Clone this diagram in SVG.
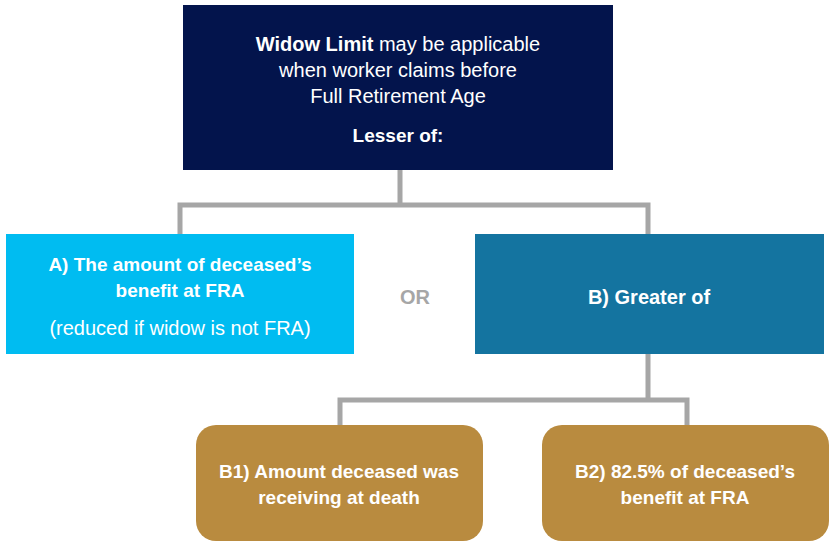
<svg xmlns="http://www.w3.org/2000/svg" width="831" height="543" viewBox="0 0 831 543">
<style>
text{font-family:"Liberation Sans",Arial,sans-serif;fill:#ffffff;text-anchor:middle;font-size:19px}
.b{font-weight:bold}
.l{font-size:20px}
.conn{fill:none;stroke:#a6a6a6;stroke-width:5}
</style>
<rect width="831" height="543" fill="#ffffff"/>
<g id="connectors">
<path class="conn" d="M400,170 V205 M180,234 V205 H648 V234"/>
<path class="conn" d="M648,354 V400 M340,425 V400 H687 V425"/>
</g>
<g id="top">
<rect x="183" y="5" width="430" height="165" fill="#03144c"/>
<text x="398" y="51" class="l"><tspan class="b">Widow Limit</tspan> may be applicable</text>
<text x="398" y="77" class="l">when worker claims before</text>
<text x="398" y="103" class="l">Full Retirement Age</text>
<text x="398" y="142" class="b">Lesser of:</text>
</g>
<g id="nodeA">
<rect x="6" y="234" width="348" height="120" fill="#00bcf1"/>
<text x="180" y="271" class="b">A) The amount of deceased’s</text>
<text x="180" y="297" class="b">benefit at FRA</text>
<text x="180" y="335" class="l">(reduced if widow is not FRA)</text>
</g>
<g id="or">
<text x="415" y="304" class="b l" style="fill:#a6a6a6">OR</text>
</g>
<g id="nodeB">
<rect x="475" y="234" width="349" height="120" fill="#1474a0"/>
<text x="649" y="304" class="b l">B) Greater of</text>
</g>
<g id="nodeB1">
<rect x="196" y="425" width="287" height="116" rx="20" fill="#b98b3f"/>
<text x="339" y="478" class="b">B1) Amount deceased was</text>
<text x="339" y="504" class="b">receiving at death</text>
</g>
<g id="nodeB2">
<rect x="542" y="425" width="287" height="116" rx="20" fill="#b98b3f"/>
<text x="685" y="478" class="b">B2) 82.5% of deceased’s</text>
<text x="685" y="504" class="b">benefit at FRA</text>
</g>
</svg>
